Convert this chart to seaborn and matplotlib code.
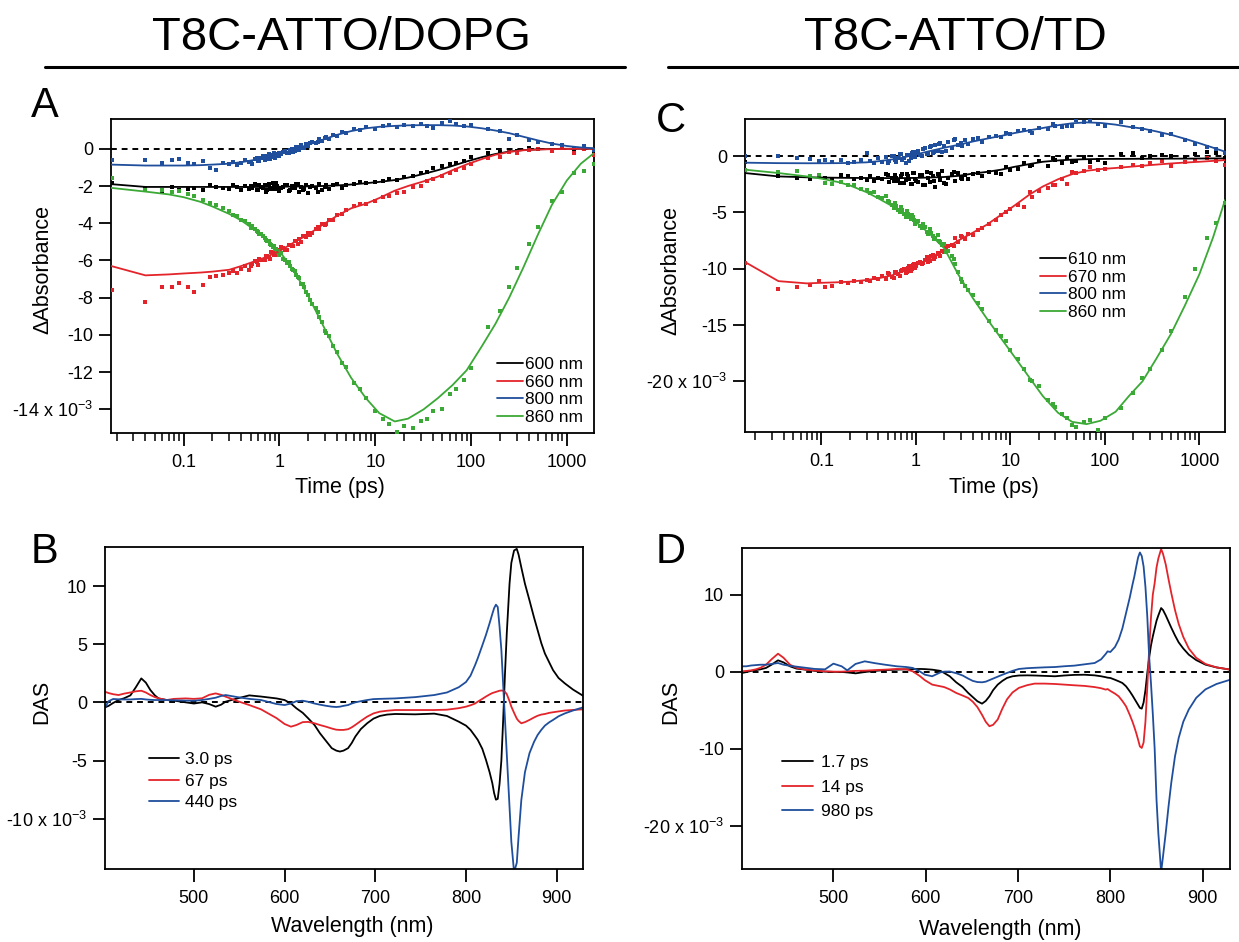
import matplotlib
matplotlib.use("Agg")
import matplotlib.pyplot as plt
from matplotlib.lines import Line2D
from matplotlib.ticker import LogLocator, NullFormatter
import seaborn as sns

# --- data: kinetics, T8C-ATTO/DOPG (panel A), values in 1e-3 ---
tA = [0.018, 0.04, 0.06, 0.075, 0.09, 0.11, 0.13, 0.16, 0.19, 0.22,
      0.26, 0.3, 0.33, 0.36, 0.4, 0.44, 0.48, 0.52, 0.56, 0.6,
      0.65, 0.7, 0.75, 0.8, 0.85, 0.9, 0.95, 1.0, 1.1, 1.2,
      1.3, 1.4, 1.5, 1.6, 1.7, 1.8, 1.9, 2.0, 2.2, 2.4,
      2.6, 2.8, 3.0, 3.3, 3.6, 4.0, 4.5, 5.0, 6, 7,
      8, 10, 12, 14, 17, 20, 25, 30, 35, 40,
      50, 60, 70, 85, 100, 150, 200, 250, 300, 400,
      500, 700, 900, 1200, 1500, 1900]
ptsA_600 = [-1.85, -2.1, -2.25, -2.05, -2.2, -2.15, -2.1, -2.2, -1.95, -2.05,
            -2.1, -2.15, -1.95, -2.05, -2.2, -2.0, -2.15, -2.1, -1.9, -2.2,
            -2.05, -1.95, -2.2, -2.1, -1.85, -2.15, -2.0, -2.25, -2.05, -1.95,
            -2.2, -2.1, -1.9, -2.3, -2.05, -2.15, -1.95, -2.35, -2.0, -2.1,
            -1.9, -2.2, -2.05, -2.15, -1.95, -1.9, -2.1, -1.95, -1.9, -1.8,
            -1.85, -1.8, -1.75, -1.65, -1.7, -1.5, -1.45, -1.3, -1.25, -1.05,
            -0.95, -0.8, -0.75, -0.65, -0.45, -0.25, -0.15, -0.05, -0.1, 0.05,
            0.0, -0.05, 0.1, -0.05, 0.05, -0.1]
ptsA_660 = [-7.6, -8.25, -7.4, -7.4, -7.2, -7.4, -7.7, -7.3, -6.9, -6.85,
            -6.8, -6.7, -6.55, -6.7, -6.45, -6.3, -6.5, -6.2, -6.05, -6.25,
            -6.0, -5.95, -5.75, -5.9, -5.6, -5.7, -5.45, -5.6, -5.35, -5.45,
            -5.15, -5.2, -4.95, -4.85, -5.0, -4.7, -4.75, -4.55, -4.5, -4.3,
            -4.3, -4.05, -4.1, -3.85, -3.8, -3.55, -3.5, -3.3, -3.1, -2.95,
            -2.95, -2.8, -2.6, -2.55, -2.35, -2.3, -2.05, -2.0, -1.75, -1.65,
            -1.45, -1.3, -1.15, -1.05, -0.8, -0.5, -0.45, -0.15, -0.2, -0.05,
            0.0, -0.1, 0.05, -0.2, 0.0, -0.35]
ptsA_800 = [-0.6, -0.6, -0.75, -0.6, -0.55, -0.78, -0.8, -0.65, -1.05, -1.15,
            -0.75, -0.8, -0.7, -0.85, -0.75, -0.6, -0.7, -0.8, -0.55, -0.65,
            -0.5, -0.6, -0.4, -0.55, -0.35, -0.5, -0.3, -0.4, -0.15, -0.25,
            -0.05, -0.15, 0.1, -0.05, 0.2, 0.05, 0.25, 0.15, 0.35, 0.3,
            0.5, 0.4, 0.6, 0.55, 0.75, 0.7, 0.9, 0.85, 1.05, 1.0,
            1.15, 1.05, 1.2, 1.3, 1.15, 1.3, 1.2, 1.35, 1.2, 1.1,
            1.4, 1.5, 1.35, 1.2, 1.3, 1.05, 0.95, 0.55, 0.75, 0.45,
            0.35, 0.25, 0.2, 0.05, 0.15, -0.05]
ptsA_860 = [-1.55, -2.2, -2.2, -2.3, -2.25, -2.45, -2.55, -2.75, -2.9, -3.0,
            -3.2, -3.35, -3.55, -3.6, -3.8, -3.9, -4.05, -4.15, -4.3, -4.45,
            -4.6, -4.8, -4.95, -5.1, -5.3, -5.4, -5.55, -5.7, -5.9, -6.15,
            -6.3, -6.5, -6.8, -6.95, -7.25, -7.4, -7.7, -7.85, -8.35, -8.55,
            -9.05, -9.3, -9.8, -10.05, -10.6, -10.9, -11.5, -11.7, -12.6, -12.9,
            -13.4, -14.1, -14.5, -14.8, -15.2, -14.9, -15.0, -14.6, -14.5, -14.1,
            -14.0, -13.2, -12.9, -12.4, -11.8, -9.6, -8.7, -7.4, -6.4, -5.1,
            -4.2, -2.8, -2.3, -1.3, -1.2, -0.8]
# extra points in the densely sampled 0.5-3 ps window
tA_dense = [0.5, 0.58, 0.62, 0.68, 0.72, 0.78, 0.82, 0.88, 0.92, 0.98,
            1.05, 1.15, 1.25, 1.35, 1.45, 1.55, 1.75, 2.1, 2.5, 3.1]
denseA_600 = [-2.0, -2.2, -1.95, -2.1, -2.3, -1.9, -2.15, -2.05, -1.85, -2.2,
              -2.1, -1.95, -2.25, -2.0, -2.1, -1.9, -2.2, -2.05, -2.3, -1.95]
denseA_660 = [-6.3, -6.1, -5.9, -6.0, -5.75, -5.8, -5.55, -5.7, -5.4, -5.65,
              -5.3, -5.45, -5.15, -5.25, -4.95, -5.1, -4.7, -4.65, -4.2, -4.05]
denseA_800 = [-0.7, -0.5, -0.65, -0.4, -0.55, -0.3, -0.45, -0.25, -0.4, -0.2,
              -0.3, -0.1, -0.2, 0.0, -0.1, 0.1, 0.05, 0.3, 0.35, 0.65]
denseA_860 = [-4.25, -4.4, -4.6, -4.7, -4.9, -4.95, -5.15, -5.2, -5.4, -5.5,
              -5.6, -5.95, -6.1, -6.45, -6.55, -6.9, -7.25, -8.1, -8.75, -9.9]

tA_fit = [0.0176, 0.04, 0.07, 0.1, 0.15, 0.2, 0.3, 0.4, 0.55, 0.7,
          1, 1.4, 2, 2.8, 4, 5.6, 8, 11, 16, 22,
          32, 45, 64, 90, 130, 180, 250, 350, 500, 700,
          1000, 1400, 1900]
fitA_600 = [-1.9, -2.05, -2.05, -2.05, -2.05, -2.05, -2.05, -2.05, -2.05, -2.05,
            -2.04, -2.03, -2.02, -2.0, -1.97, -1.92, -1.85, -1.78, -1.68, -1.55,
            -1.35, -1.15, -0.92, -0.68, -0.45, -0.28, -0.15, -0.07, -0.03, -0.01,
            0.0, 0.0, 0.0]
fitA_660 = [-6.3, -6.8, -6.75, -6.7, -6.65, -6.6, -6.5, -6.3, -6.05, -5.85,
            -5.5, -5.05, -4.6, -4.1, -3.6, -3.2, -2.95, -2.65, -2.25, -2.0,
            -1.75, -1.5, -1.15, -0.84, -0.55, -0.32, -0.17, -0.08, -0.04, -0.02,
            -0.01, 0.0, 0.0]
fitA_800 = [-0.85, -0.9, -0.9, -0.9, -0.88, -0.85, -0.8, -0.72, -0.6, -0.48,
            -0.3, -0.05, 0.22, 0.48, 0.75, 0.95, 1.1, 1.18, 1.23, 1.26,
            1.27, 1.27, 1.25, 1.2, 1.1, 0.98, 0.84, 0.65, 0.45, 0.28,
            0.15, 0.07, 0.03]
fitA_860 = [-2.1, -2.3, -2.45, -2.6, -2.85, -3.1, -3.5, -3.85, -4.35, -4.8,
            -5.5, -6.5, -7.9, -9.4, -11.0, -12.3, -13.4, -14.2, -14.65, -14.5,
            -14.0, -13.4, -12.7, -11.9, -10.6, -9.4, -8.0, -6.4, -4.6, -3.0,
            -1.7, -0.8, -0.25]
labelsA = ["600 nm", "660 nm", "800 nm", "860 nm"]

# --- data: kinetics, T8C-ATTO/TD (panel C) ---
tC = [0.0155, 0.035, 0.055, 0.075, 0.095, 0.11, 0.13, 0.16, 0.19, 0.22,
      0.26, 0.3, 0.33, 0.36, 0.4, 0.44, 0.48, 0.52, 0.56, 0.6,
      0.65, 0.7, 0.75, 0.8, 0.85, 0.9, 0.95, 1.0, 1.1, 1.2,
      1.3, 1.4, 1.5, 1.6, 1.7, 1.8, 1.9, 2.0, 2.2, 2.4,
      2.6, 2.8, 3.0, 3.3, 3.6, 4.0, 4.5, 5.0, 6, 7,
      8, 10, 12, 14, 17, 20, 25, 30, 35, 40,
      50, 60, 70, 85, 100, 150, 200, 250, 300, 400,
      500, 700, 900, 1200, 1500, 1850]
ptsC_610 = [-0.5, -1.8, -1.9, -2.0, -1.8, -1.9, -2.0, -1.7, -1.8, -2.0,
            -1.9, -2.1, -1.8, -2.2, -1.9, -2.0, -1.6, -2.3, -1.9, -1.7,
            -2.2, -1.8, -2.4, -1.6, -2.0, -2.5, -1.5, -2.2, -1.7, -2.6,
            -1.4, -2.3, -1.8, -2.7, -1.6, -2.1, -1.3, -2.4, -1.9, -1.6,
            -2.2, -1.5, -1.9, -1.7, -2.0, -1.6, -1.5, -1.8, -1.4, -1.5,
            -1.6, -1.2, -1.1, -0.6, -0.8, -0.4, -0.9, -0.3, -0.6, -0.2,
            -0.4, -0.1, -0.5, -0.3, -0.6, 0.2, 0.3, -0.2, 0.0, 0.1,
            0.0, -0.1, 0.2, 0.4, 0.3, -0.2]
ptsC_670 = [-9.5, -11.8, -11.6, -11.4, -11.1, -11.6, -11.5, -11.2, -11.3, -11.1,
            -11.2, -11.0, -11.1, -10.8, -10.9, -10.6, -10.9, -10.5, -10.7, -10.3,
            -10.5, -10.2, -10.0, -10.3, -9.8, -10.0, -9.6, -9.8, -9.4, -9.5,
            -9.0, -9.3, -8.8, -9.0, -8.6, -8.9, -8.4, -8.5, -8.0, -7.9,
            -7.3, -7.6, -7.1, -7.4, -6.9, -7.0, -6.6, -6.4, -6.0, -5.7,
            -5.2, -4.7, -4.3, -4.5, -3.6, -3.1, -2.8, -2.6, -2.0, -2.5,
            -1.5, -1.3, -1.0, -1.2, -1.1, -1.0, -0.8, -0.9, -0.6, -0.4,
            -0.9, -0.5, -0.3, -0.2, -0.4, -0.8]
ptsC_800 = [0.03, 0.03, -0.2, -0.27, -0.4, -0.3, -0.5, -0.35, -0.6, -0.5,
            -0.3, 0.3, -0.45, -0.6, -0.2, -0.5, -0.1, -0.4, 0.0, -0.3,
            -0.15, 0.2, -0.2, 0.1, -0.4, 0.3, 0.0, 0.4, 0.1, 0.6,
            0.2, 0.8, 0.3, 1.0, 0.5, 1.2, 0.4, 0.9, 1.3, 0.7,
            1.5, 1.0, 1.2, 1.4, 1.1, 1.5, 1.6, 1.3, 1.7, 1.8,
            1.7, 2.0, 2.2, 2.3, 2.1, 2.5, 2.4, 2.7, 2.6, 2.7,
            3.2, 3.0, 3.1, 2.9, 2.7, 3.0, 2.6, 2.4, 2.2, 1.9,
            2.0, 1.4, 1.1, 0.8, 0.6, 0.3]
ptsC_860 = [-1.25, -1.4, -1.35, -1.8, -1.7, -2.4, -2.45, -2.3, -2.6, -2.55,
            -2.95, -3.0, -3.3, -3.15, -3.6, -3.75, -3.55, -4.1, -4.3, -4.2,
            -4.8, -4.5, -5.1, -4.9, -5.4, -5.2, -5.7, -5.8, -6.2, -6.0,
            -6.7, -6.5, -7.1, -7.3, -7.0, -7.6, -7.9, -7.8, -8.4, -8.9,
            -9.6, -10.3, -10.9, -11.5, -11.9, -12.3, -13.0, -13.6, -14.6, -15.4,
            -16.0, -17.2, -18.0, -18.9, -20.0, -20.4, -21.7, -22.3, -22.9, -23.3,
            -24.1, -23.6, -23.4, -24.3, -23.3, -22.4, -21.0, -19.7, -18.9, -17.2,
            -15.5, -12.5, -10.0, -7.3, -5.9, -4.2]
tC_dense = [0.5, 0.58, 0.62, 0.68, 0.72, 0.78, 0.82, 0.88, 0.92, 0.98,
            1.05, 1.15, 1.25, 1.35, 1.45, 1.55, 1.75, 2.1, 2.5, 3.1,
            9, 16, 28, 45]
denseC_610 = [-1.7, -2.2, -1.9, -2.4, -1.6, -2.1, -1.8, -2.5, -1.5, -2.0,
              -2.3, -1.7, -2.6, -1.9, -1.5, -2.2, -1.7, -2.5, -1.4, -2.0,
              -1.0, -0.9, -0.2, -0.5]
denseC_670 = [-10.4, -10.8, -10.3, -10.6, -10.1, -10.4, -9.9, -10.2, -9.7, -9.9,
              -9.5, -9.6, -9.2, -9.4, -8.9, -9.1, -8.7, -8.1, -8.0, -7.2,
              -5.0, -3.2, -2.6, -1.4]
denseC_800 = [-0.6, 0.0, -0.5, 0.2, -0.3, -0.6, 0.1, -0.2, 0.4, -0.1,
              0.5, 0.0, 0.7, 0.2, 0.9, 0.4, 1.1, 0.5, 1.4, 0.9,
              2.1, 2.2, 2.9, 2.7]
denseC_860 = [-4.0, -4.6, -4.4, -5.0, -4.8, -5.4, -5.1, -5.6, -5.4, -6.0,
              -5.8, -6.4, -6.3, -6.9, -6.8, -7.4, -7.5, -8.5, -9.1, -11.2,
              -16.4, -19.9, -22.0, -23.9]

tC_fit = [0.0155, 0.035, 0.07, 0.1, 0.15, 0.2, 0.3, 0.4, 0.55, 0.7,
          1, 1.4, 2, 2.8, 4, 5.6, 8, 11, 16, 22,
          32, 45, 64, 90, 130, 180, 250, 350, 500, 700,
          1000, 1400, 1870]
fitC_610 = [-1.5, -1.8, -1.88, -1.9, -1.92, -1.93, -1.94, -1.95, -1.95, -1.95,
            -1.93, -1.9, -1.85, -1.75, -1.55, -1.4, -1.2, -0.95, -0.7, -0.5,
            -0.38, -0.31, -0.27, -0.25, -0.24, -0.24, -0.23, -0.23, -0.22, -0.22,
            -0.21, -0.2, -0.2]
fitC_670 = [-9.4, -11.1, -11.3, -11.25, -11.2, -11.15, -11.0, -10.85, -10.6, -10.3,
            -9.7, -9.1, -8.3, -7.5, -6.8, -6.1, -5.2, -4.4, -3.4, -2.7,
            -2.05, -1.6, -1.3, -1.15, -1.05, -0.95, -0.85, -0.75, -0.65, -0.57,
            -0.5, -0.42, -0.35]
fitC_800 = [-0.58, -0.62, -0.63, -0.63, -0.62, -0.6, -0.55, -0.45, -0.3, -0.15,
            0.15, 0.45, 0.75, 1.0, 1.3, 1.55, 1.8, 2.05, 2.3, 2.5,
            2.75, 2.92, 3.0, 2.95, 2.8, 2.6, 2.45, 2.2, 1.9, 1.55,
            1.15, 0.75, 0.4]
fitC_860 = [-1.2, -1.5, -1.8, -2.0, -2.3, -2.6, -3.2, -3.75, -4.4, -4.95,
            -5.85, -6.9, -8.2, -10.5, -12.6, -14.4, -16.2, -17.8, -19.7, -21.3,
            -22.8, -23.6, -23.8, -23.5, -22.7, -21.3, -20.0, -18.0, -15.8, -13.3,
            -10.5, -7.2, -3.9]
labelsC = ["610 nm", "670 nm", "800 nm", "860 nm"]

# --- data: decay associated spectra, DOPG (panel B) ---
wl_B = [402, 406, 411, 417, 423, 430, 436, 442, 447, 452,
        457, 461, 470, 478, 491, 500, 509, 517, 524, 530,
        535, 548, 561, 574, 591, 600, 607, 613, 620, 626,
        633, 639, 646, 652, 657, 661, 665, 670, 674, 678,
        684, 691, 698, 705, 713, 722, 744, 765, 779, 792,
        800, 805, 810, 813, 818, 822, 826, 829, 831, 833,
        835, 837, 839, 841, 843, 845, 848, 850, 853, 856,
        858, 861, 865, 870, 875, 879, 883, 887, 892, 896,
        902, 909, 918, 929]
das_B_3ps = [-0.43, -0.3, -0.05, 0.2, 0.35, 0.6, 1.3, 2.06, 1.7, 1.06,
             0.6, 0.34, 0.2, 0.15, 0.0, -0.1, 0.0, -0.15, -0.37, -0.2,
             0.06, 0.34, 0.6, 0.5, 0.34, 0.2, -0.1, -0.51, -0.9, -1.37,
             -1.95, -2.66, -3.35, -3.94, -4.15, -4.23, -4.15, -3.94, -3.5, -2.94,
             -2.3, -1.8, -1.4, -1.17, -1.05, -1.0, -1.03, -0.97, -1.17, -1.66,
             -2.0, -2.37, -2.9, -3.23, -4.0, -4.94, -6.0, -6.94, -7.8, -8.37,
             -8.3, -7.0, -5.0, -1.5, 2.5, 6.0, 10.2, 12.0, 13.06, 13.2,
             12.7, 11.6, 10.2, 8.77, 7.3, 6.2, 5.1, 4.2, 3.4, 2.77,
             2.1, 1.63, 1.1, 0.57]
das_B_67ps = [0.91, 0.8, 0.7, 0.63, 0.75, 0.85, 0.95, 1.0, 0.85, 0.63,
              0.45, 0.35, 0.2, 0.3, 0.34, 0.3, 0.35, 0.65, 0.77, 0.65,
              0.49, 0.11, -0.23, -0.6, -1.35, -1.86, -2.09, -1.95, -1.7, -1.68,
              -1.8, -1.95, -2.1, -2.25, -2.35, -2.37, -2.37, -2.31, -2.15, -1.94,
              -1.6, -1.23, -0.95, -0.8, -0.72, -0.66, -0.66, -0.66, -0.63, -0.5,
              -0.37, -0.25, -0.1, 0.06, 0.3, 0.5, 0.68, 0.8, 0.85, 0.9,
              0.95, 1.0, 1.02, 1.0, 0.9, 0.7, 0.1, -0.37, -0.9, -1.4,
              -1.6, -1.8, -1.7, -1.51, -1.3, -1.15, -1.05, -1.0, -0.9, -0.85,
              -0.78, -0.7, -0.65, -0.6]
das_B_440ps = [-0.43, 0.1, 0.29, 0.26, 0.25, 0.25, 0.28, 0.3, 0.25, 0.22,
               0.2, 0.2, 0.2, 0.18, 0.15, 0.14, 0.2, 0.3, 0.4, 0.55,
               0.63, 0.45, 0.3, 0.2, -0.14, -0.23, -0.1, 0.1, 0.14, 0.05,
               -0.1, -0.2, -0.3, -0.37, -0.4, -0.37, -0.3, -0.23, -0.1, 0.0,
               0.1, 0.2, 0.28, 0.3, 0.32, 0.34, 0.45, 0.63, 0.85, 1.3,
               1.75, 2.3, 3.2, 3.8, 4.9, 5.8, 6.8, 7.6, 8.1, 8.4,
               8.2, 6.5, 4.5, 1.5, -1.5, -4.5, -9.0, -12.0, -14.6, -13.8,
               -11.5, -8.4, -6.0, -4.37, -3.4, -2.8, -2.37, -2.0, -1.7, -1.51,
               -1.2, -0.95, -0.7, -0.43]
labelsB = ["3.0 ps", "67 ps", "440 ps"]

# --- data: decay associated spectra, TD (panel D) ---
wl_D = [401, 406, 411, 416, 421, 427, 433, 440, 446, 453,
        460, 470, 480, 491, 500, 509, 515, 524, 534, 545,
        556, 569, 579, 586, 594, 599, 607, 616, 620, 626,
        633, 640, 646, 651, 656, 661, 665, 669, 673, 678,
        683, 688, 694, 701, 710, 718, 729, 740, 750, 761,
        772, 783, 790, 795, 797, 800, 805, 809, 813, 817,
        821, 824, 826, 828, 830, 832, 834, 836, 838, 840,
        842, 844, 846, 848, 850, 852, 855, 857, 860, 863,
        866, 870, 874, 879, 885, 893, 903, 915, 930]
das_D_1p7ps = [-0.17, -0.05, 0.1, 0.2, 0.3, 0.48, 0.9, 1.47, 1.2, 0.69,
               0.4, 0.26, 0.1, 0.0, -0.03, -0.04, -0.1, -0.22, -0.05, 0.1,
               0.2, 0.26, 0.3, 0.32, 0.35, 0.33, 0.26, 0.1, -0.17, -0.6,
               -1.38, -2.0, -2.76, -3.3, -3.84, -4.15, -3.8, -3.2, -2.4, -1.68,
               -1.2, -0.82, -0.6, -0.5, -0.48, -0.5, -0.55, -0.6, -0.5, -0.42,
               -0.4, -0.48, -0.6, -0.72, -0.78, -0.82, -1.05, -1.25, -1.47, -1.9,
               -2.55, -3.1, -3.5, -3.9, -4.3, -4.7, -4.8, -4.0, -2.4, -0.2,
               1.8, 3.4, 4.58, 5.6, 6.6, 7.3, 8.25, 8.0, 7.3, 6.5,
               5.7, 4.7, 3.8, 3.0, 2.2, 1.5, 0.91, 0.55, 0.26]
das_D_14ps = [0.04, 0.1, 0.17, 0.3, 0.5, 0.9, 1.6, 2.33, 1.8, 0.9,
              0.5, 0.26, 0.15, 0.04, 0.0, 0.0, 0.05, 0.1, 0.13, 0.2,
              0.26, 0.35, 0.3, 0.04, -0.6, -1.1, -1.68, -1.9, -2.0, -2.3,
              -2.76, -3.1, -3.41, -3.9, -4.6, -5.6, -6.5, -7.08, -6.9, -6.2,
              -4.8, -3.6, -2.7, -2.1, -1.75, -1.55, -1.55, -1.6, -1.68, -1.77,
              -1.85, -2.0, -2.15, -2.33, -2.25, -2.5, -2.85, -3.2, -3.8, -4.5,
              -5.6, -6.5, -7.2, -7.95, -8.8, -9.7, -9.9, -9.2, -6.5, -2.0,
              2.85, 7.0, 10.0, 11.5, 13.5, 14.7, 15.9, 15.3, 13.9, 12.0,
              10.2, 8.0, 6.2, 4.5, 3.0, 1.8, 1.0, 0.55, 0.26]
das_D_980ps = [0.69, 0.7, 0.8, 0.85, 0.9, 0.9, 1.0, 1.12, 0.9, 0.75,
               0.65, 0.5, 0.35, 0.3, 1.04, 0.69, 0.17, 1.0, 1.34, 1.1,
               0.9, 0.69, 0.6, 0.48, 0.0, -0.39, -0.6, -0.09, 0.0, 0.02,
               -0.2, -0.5, -0.9, -1.2, -1.35, -1.38, -1.3, -1.1, -0.9, -0.65,
               -0.4, -0.17, 0.1, 0.35, 0.45, 0.5, 0.56, 0.6, 0.7, 0.78,
               0.95, 1.12, 1.6, 2.3, 2.63, 2.55, 3.2, 4.15, 5.6, 7.6,
               9.6, 11.3, 12.35, 13.6, 14.8, 15.46, 15.0, 13.65, 11.0, 7.17,
               2.0, -1.5, -5.5, -10.0, -16.6, -21.0, -26.0, -24.0, -20.9, -17.5,
               -14.4, -11.0, -8.6, -6.5, -4.9, -3.4, -2.3, -1.6, -1.04]
labelsD = ["1.7 ps", "14 ps", "980 ps"]

colors = ["#000000", "#e3242b", "#1f4e9c", "#3aa935"]

# --- style ---
sns.set_theme(style="ticks")
plt.rcParams["font.family"] = ["Liberation Sans", "DejaVu Sans"]
plt.rcParams["mathtext.fontset"] = "custom"
plt.rcParams["mathtext.rm"] = "Liberation Sans"
plt.rcParams["mathtext.it"] = "Liberation Sans:italic"
plt.rcParams["axes.unicode_minus"] = False
for key in ["text.color", "axes.labelcolor", "xtick.color", "ytick.color",
            "axes.edgecolor"]:
    plt.rcParams[key] = "black"

W, H = 1239, 942
fig = plt.figure(figsize=(W / 100, H / 100), dpi=100)


def px_axes(l, t, r, b):
    return fig.add_axes([l / W, 1 - b / H, (r - l) / W, (b - t) / H])


def frame(ax):
    for s in ax.spines.values():
        s.set_visible(True)
        s.set_linewidth(1.3)
        s.set_color("black")
    ax.tick_params(which="major", direction="out", length=9, width=1.3,
                   labelsize=13, colors="black", pad=4)
    ax.tick_params(which="minor", direction="out", length=5.5, width=1.1,
                   colors="black")
    ax.axhline(0, color="black", lw=1.4, ls=(0, (3, 2.5)), zorder=1)


def legend(ax, x, y, hl, tp, ls):
    leg = ax.legend(loc="center left", bbox_to_anchor=(x / W, 1 - y / H),
                    bbox_transform=fig.transFigure, frameon=False, fontsize=12.5,
                    handlelength=hl, handletextpad=tp, labelspacing=ls,
                    borderpad=0, borderaxespad=0)
    for txt in leg.get_texts():
        txt.set_color("black")


def kinetics(ax, t, pts, td, dense, tfit, fits, labels, xlim, ylim, yticks, yticklabels):
    for p, d, f, lab, c in zip(pts, dense, fits, labels, colors):
        sns.scatterplot(x=t, y=p, ax=ax, color=c, marker="s", s=10,
                        linewidth=0, legend=False, zorder=3)
        sns.scatterplot(x=td, y=d, ax=ax, color=c, marker="s", s=10,
                        linewidth=0, legend=False, zorder=3)
        sns.lineplot(x=tfit, y=f, ax=ax, color=c, lw=1.3, label=lab,
                     estimator=None, sort=False, zorder=4)
    ax.set_xscale("log")
    ax.set_xlim(*xlim)
    ax.set_ylim(*ylim)
    ax.set_xticks([0.1, 1, 10, 100, 1000])
    ax.set_xticklabels(["0.1", "1", "10", "100", "1000"])
    ax.xaxis.set_minor_locator(LogLocator(base=10, subs=range(2, 10), numticks=20))
    ax.xaxis.set_minor_formatter(NullFormatter())
    ax.set_yticks(yticks)
    ax.set_yticklabels(yticklabels)
    frame(ax)
    ax.tick_params(axis="x", pad=6)


def das(ax, wl, series, labels, xlim, ylim, yticks, yticklabels):
    for y, lab, c in zip(series, labels, colors):
        sns.lineplot(x=wl, y=y, ax=ax, color=c, lw=1.3, label=lab,
                     estimator=None, sort=False)
    ax.set_xlim(*xlim)
    ax.set_ylim(*ylim)
    ax.set_xticks([500, 600, 700, 800, 900])
    ax.set_yticks(yticks)
    ax.set_yticklabels(yticklabels)
    frame(ax)
    ax.tick_params(axis="x", pad=6)


# panel A
axA = px_axes(111, 119, 594, 433)
kinetics(axA, tA, [ptsA_600, ptsA_660, ptsA_800, ptsA_860],
         tA_dense, [denseA_600, denseA_660, denseA_800, denseA_860], tA_fit,
         [fitA_600, fitA_660, fitA_800, fitA_860], labelsA,
         (0.0175, 1920), (-15.27, 1.6),
         [0, -2, -4, -6, -8, -10, -12, -14],
         ["0", "-2", "-4", "-6", "-8", "-10", "-12", "-14 x 10$^{-3}$"])
axA.set_xlabel("Time (ps)", fontsize=15.5, va="center")
axA.set_ylabel("\u0394Absorbance", fontsize=15.5, va="center")
axA.xaxis.set_label_coords(0.473, -0.175)
axA.yaxis.set_label_coords(-0.142, 0.52)
legend(axA, 497, 391, 1.5, 0.12, 0.14)

# panel C
axC = px_axes(745, 119, 1225, 432)
kinetics(axC, tC, [ptsC_610, ptsC_670, ptsC_800, ptsC_860],
         tC_dense, [denseC_610, denseC_670, denseC_800, denseC_860], tC_fit,
         [fitC_610, fitC_670, fitC_800, fitC_860], labelsC,
         (0.0155, 1870), (-24.5, 3.3),
         [0, -5, -10, -15, -20],
         ["0", "-5", "-10", "-15", "-20 x 10$^{-3}$"])
axC.set_xlabel("Time (ps)", fontsize=15.5, va="center")
axC.set_ylabel("\u0394Absorbance", fontsize=15.5, va="center")
axC.xaxis.set_label_coords(0.518, -0.178)
axC.yaxis.set_label_coords(-0.154, 0.517)
legend(axC, 1040, 286, 1.5, 0.12, 0.14)

# panel B
axB = px_axes(105, 547, 583, 869)
das(axB, wl_B, [das_B_3ps, das_B_67ps, das_B_440ps], labelsB,
    (402, 929), (-14.33, 13.36), [10, 5, 0, -5, -10],
    ["10", "5", "0", "-5", "-10 x 10$^{-3}$"])
axB.set_xlabel("Wavelength (nm)", fontsize=15.5, va="center")
axB.set_ylabel("DAS", fontsize=15.5, va="center")
axB.xaxis.set_label_coords(0.518, -0.178)
axB.yaxis.set_label_coords(-0.132, 0.52)
legend(axB, 149, 781, 1.7, 0.4, 0.39)

# panel D
axD = px_axes(742, 548, 1230, 869)
das(axD, wl_D, [das_D_1p7ps, das_D_14ps, das_D_980ps], labelsD,
    (401, 929.6), (-25.6, 16.04), [10, 0, -10, -20],
    ["10", "0", "-10", "-20 x 10$^{-3}$"])
axD.set_xlabel("Wavelength (nm)", fontsize=15.5, va="center")
axD.set_ylabel("DAS", fontsize=15.5, va="center")
axD.xaxis.set_label_coords(0.53, -0.189)
axD.yaxis.set_label_coords(-0.145, 0.522)
legend(axD, 782, 787, 1.8, 0.45, 0.52)

# titles, rules and panel letters
fig.text(341 / W, 1 - 38 / H, "T8C-ATTO/DOPG", ha="center", va="center", fontsize=34)
fig.text(955 / W, 1 - 38 / H, "T8C-ATTO/TD", ha="center", va="center", fontsize=34)
fig.add_artist(Line2D([45 / W, 625 / W], [1 - 67 / H] * 2, color="black", lw=2.2))
fig.add_artist(Line2D([668 / W, 1.0], [1 - 67 / H] * 2, color="black", lw=2.2))
for letter, x, y in [("A", 45, 106), ("B", 45, 552), ("C", 671, 121), ("D", 671, 552)]:
    fig.text(x / W, 1 - y / H, letter, ha="center", va="center", fontsize=30)

fig.savefig("out.png", dpi=100)
